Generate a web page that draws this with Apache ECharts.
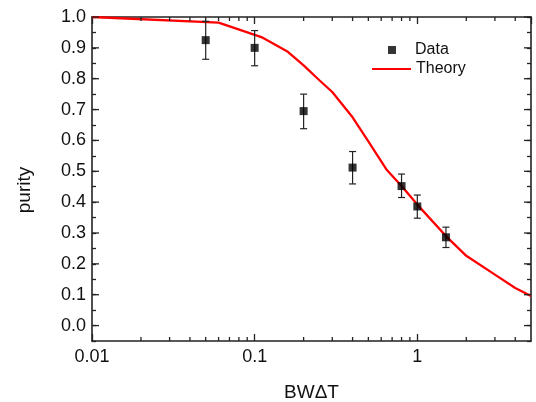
<!DOCTYPE html>
<html>
<head>
<meta charset="utf-8">
<script src="https://cdn.jsdelivr.net/npm/echarts@6/dist/echarts.min.js"></script>
<style>html,body{margin:0;padding:0;background:#fff}#c{width:536px;height:402px}</style>
</head>
<body>
<div id="c"></div>
<script>
// ---- data ----
const dataX = [0.05, 0.1, 0.2, 0.4, 0.8, 1.0, 1.5];
const dataY = [0.925, 0.900, 0.695, 0.512, 0.452, 0.386, 0.286];
const errLow = [0.863, 0.842, 0.638, 0.459, 0.415, 0.348, 0.253];
const errHigh = [0.986, 0.956, 0.750, 0.564, 0.491, 0.423, 0.319];

const theoryX = [0.01, 0.06, 0.11, 0.16, 0.2, 0.25, 0.3, 0.4, 0.5, 0.65, 0.8, 1.0, 1.5, 2.0, 3.0, 4.0, 5.0];
const theoryY = [1.0, 0.982, 0.935, 0.887, 0.843, 0.795, 0.757, 0.675, 0.597, 0.504, 0.452, 0.392, 0.29, 0.226, 0.165, 0.122, 0.096];

const xMin = 0.01, xMax = 5;
const yMin = -0.05, yMax = 1.0;
const xMinorTicks = [0.02, 0.03, 0.04, 0.05, 0.06, 0.07, 0.08, 0.09,
                     0.2, 0.3, 0.4, 0.5, 0.6, 0.7, 0.8, 0.9, 2, 3, 4];
const yMajorTicks = [0, 0.1, 0.2, 0.3, 0.4, 0.5, 0.6, 0.7, 0.8, 0.9, 1.0];

const FONT = "'Liberation Sans', Arial, sans-serif";
const AX = '#222';

const chart = echarts.init(document.getElementById('c'), null, {renderer: 'canvas'});

const axisLine = {show: true, onZero: false, lineStyle: {color: AX, width: 1.6}};

chart.setOption({
  animation: false,
  backgroundColor: '#fff',
  grid: {left: 92, right: 5, top: 17, bottom: 61, containLabel: false, outerBoundsMode: 'none'},
  legend: [{
    orient: 'vertical', left: 388, top: 42, padding: 0, itemWidth: 8, itemHeight: 8,
    icon: 'rect',
    textStyle: {fontFamily: FONT, fontSize: 16, color: '#111', padding: [0, 0, 0, 14]},
    data: ['Data']
  }, {
    orient: 'vertical', left: 372, top: 61, padding: 0, itemWidth: 39, itemHeight: 2.2,
    icon: 'rect',
    textStyle: {fontFamily: FONT, fontSize: 16, color: '#111'},
    data: ['Theory']
  }],
  xAxis: [{
    type: 'log', logBase: 10, min: xMin, max: xMax, position: 'bottom',
    name: 'BW\u0394T', nameLocation: 'middle', nameGap: 42,
    nameTextStyle: {fontFamily: FONT, fontSize: 19, color: '#111'},
    axisLine: axisLine,
    axisTick: {show: true, inside: true, length: 7, lineStyle: {color: AX, width: 1.3}},
    axisLabel: {fontFamily: FONT, fontSize: 18, color: '#111', margin: 7, showMaxLabel: false,
      formatter: v => (v > 2 ? '' : String(parseFloat(Number(v).toPrecision(3))))},
    splitLine: {show: false}, minorTick: {show: false}
  }, {
    type: 'log', logBase: 10, min: xMin, max: xMax, position: 'top',
    axisLine: axisLine,
    axisTick: {show: true, inside: true, length: 7, lineStyle: {color: AX, width: 1.3}},
    axisLabel: {show: false}, splitLine: {show: false}
  }],
  yAxis: [{
    type: 'value', min: yMin, max: yMax, interval: 0.05, position: 'left',
    name: 'purity', nameLocation: 'middle', nameGap: 58,
    nameTextStyle: {fontFamily: FONT, fontSize: 19, color: '#111', padding: [0, 22, 0, 0]},
    axisLine: axisLine,
    axisTick: {show: true, inside: true, length: 4, lineStyle: {color: AX, width: 1.3}},
    axisLabel: {fontFamily: FONT, fontSize: 18, color: '#111', margin: 6,
      formatter: v => {
        const k = Math.round(v * 100);
        return (k >= 0 && k % 10 === 0) ? (k / 100).toFixed(1) : '';
      }},
    splitLine: {show: false}
  }, {
    type: 'value', min: yMin, max: yMax, interval: 0.05, position: 'right',
    axisLine: axisLine,
    axisTick: {show: true, inside: true, length: 4, lineStyle: {color: AX, width: 1.3}},
    axisLabel: {show: false}, splitLine: {show: false}
  }],
  series: [
    {
      name: 'Theory', type: 'line', xAxisIndex: 0, yAxisIndex: 0,
      data: theoryX.map((x, i) => [x, theoryY[i]]),
      showSymbol: false, symbol: 'none', smooth: false,
      lineStyle: {color: '#ff0000', width: 2.3}, itemStyle: {color: '#ff0000'}, z: 3
    },
    {
      name: 'errbars', type: 'custom', xAxisIndex: 0, yAxisIndex: 0, silent: true, z: 4,
      data: dataX.map((x, i) => [x, errLow[i], errHigh[i]]),
      encode: {x: 0, y: [1, 2]},
      renderItem: (params, api) => {
        const x = api.value(0);
        const pL = api.coord([x, api.value(1)]);
        const pH = api.coord([x, api.value(2)]);
        const w = 3.5, st = {stroke: '#222', lineWidth: 1.2};
        return {type: 'group', children: [
          {type: 'line', shape: {x1: pL[0], y1: pL[1], x2: pH[0], y2: pH[1]}, style: st},
          {type: 'line', shape: {x1: pL[0] - w, y1: pL[1], x2: pL[0] + w, y2: pL[1]}, style: st},
          {type: 'line', shape: {x1: pH[0] - w, y1: pH[1], x2: pH[0] + w, y2: pH[1]}, style: st}
        ]};
      }
    },
    {
      name: 'Data', type: 'scatter', xAxisIndex: 0, yAxisIndex: 0,
      data: dataX.map((x, i) => [x, dataY[i]]),
      symbol: 'rect', symbolSize: 8, itemStyle: {color: '#000'}, z: 5
    },
    {
      name: 'xminor', type: 'custom', xAxisIndex: 0, yAxisIndex: 0, silent: true, z: 6,
      data: xMinorTicks.map(v => [v, yMin]),
      renderItem: (params, api) => {
        const v = api.value(0);
        const b = api.coord([v, yMin]);
        const t = api.coord([v, yMax]);
        const st = {stroke: AX, lineWidth: 1.3};
        return {type: 'group', children: [
          {type: 'line', shape: {x1: b[0], y1: b[1], x2: b[0], y2: b[1] - 4}, style: st},
          {type: 'line', shape: {x1: t[0], y1: t[1], x2: t[0], y2: t[1] + 4}, style: st}
        ]};
      }
    },
    {
      name: 'ymajor', type: 'custom', xAxisIndex: 0, yAxisIndex: 0, silent: true, z: 6,
      data: yMajorTicks.map(v => [xMin, v]),
      renderItem: (params, api) => {
        const v = api.value(1);
        const l = api.coord([xMin, v]);
        const r = api.coord([xMax, v]);
        const st = {stroke: AX, lineWidth: 1.3};
        return {type: 'group', children: [
          {type: 'line', shape: {x1: l[0], y1: l[1], x2: l[0] + 7, y2: l[1]}, style: st},
          {type: 'line', shape: {x1: r[0], y1: r[1], x2: r[0] - 7, y2: r[1]}, style: st}
        ]};
      }
    }
  ]
});
</script>
</body>
</html>
